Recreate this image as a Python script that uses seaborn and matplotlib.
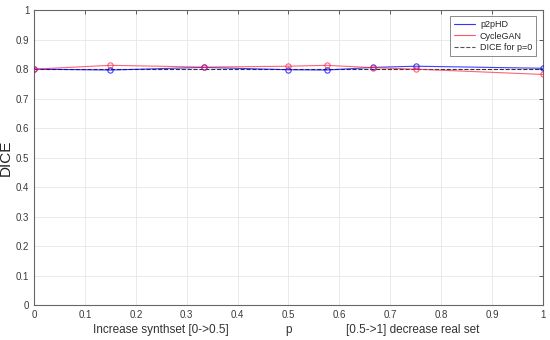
import matplotlib
matplotlib.use('Agg')
import matplotlib.pyplot as plt
from matplotlib.lines import Line2D
import seaborn as sns
import pandas as pd

# data
p = [0, 0.15, 0.333, 0.5, 0.575, 0.667, 0.75, 1.0]
p2phd = [0.800, 0.797, 0.806, 0.798, 0.797, 0.806, 0.810, 0.803]
cyclegan = [0.800, 0.813, 0.807, 0.810, 0.813, 0.805, 0.800, 0.782]
dice_p0 = 0.800

sns.set_style('whitegrid')
plt.rcParams['font.family'] = ['Liberation Sans', 'DejaVu Sans']

fig = plt.figure(figsize=(5.5, 3.4), dpi=100)
ax = fig.add_axes([0.062, 0.103, 0.925, 0.867])

df = pd.DataFrame({'p': p, 'p2pHD': p2phd, 'CycleGAN': cyclegan})

# reference line for p=0
ax.plot([0, 1], [dice_p0, dice_p0], color='#333333', linestyle='--', linewidth=0.8, zorder=2)

sns.lineplot(x='p', y='p2pHD', data=df, color='#0000ff', linewidth=0.8, marker='o',
             markersize=3.8, markerfacecolor='none', markeredgecolor='#0000ff',
             markeredgewidth=0.8, ax=ax, zorder=3, alpha=0.75)
sns.lineplot(x='p', y='CycleGAN', data=df, color='#ff2040', linewidth=0.8, marker='o',
             markersize=3.8, markerfacecolor='none', markeredgecolor='#ff2040',
             markeredgewidth=0.8, ax=ax, zorder=4, alpha=0.7)

ax.set_xlim(0, 1)
ax.set_ylim(0, 1)
ax.set_xticks([i / 10 for i in range(11)])
ax.set_yticks([i / 10 for i in range(11)])
ax.set_xticklabels(['0', '0.1', '0.2', '0.3', '0.4', '0.5', '0.6', '0.7', '0.8', '0.9', '1'])
ax.set_yticklabels(['0', '0.1', '0.2', '0.3', '0.4', '0.5', '0.6', '0.7', '0.8', '0.9', '1'])
ax.tick_params(axis='both', direction='in', length=3, width=0.6, color='#444444',
               labelsize=7, labelcolor='#3a3a3a', pad=3.5, top=True, right=True)
ax.grid(True, color='#e6e6e6', linewidth=0.6)
for s in ax.spines.values():
    s.set_visible(True)
    s.set_color('#666666')
    s.set_linewidth(0.8)

ax.set_xlabel('')
ax.set_ylabel('DICE', fontsize=11, color='#222222', labelpad=2)
ax.text(0.25, -0.085, 'Increase synthset [0->0.5]', transform=ax.transAxes,
        ha='center', va='center', fontsize=8.5, color='#333333')
ax.text(0.5, -0.085, 'p', transform=ax.transAxes,
        ha='center', va='center', fontsize=8.5, color='#333333')
ax.text(0.745, -0.085, '[0.5->1] decrease real set', transform=ax.transAxes,
        ha='center', va='center', fontsize=8.5, color='#333333')

handles = [Line2D([], [], color='#3333ff', linewidth=0.8),
           Line2D([], [], color='#ff5566', linewidth=0.8),
           Line2D([], [], color='#555555', linewidth=0.8, linestyle='--')]
leg = ax.legend(handles, ['p2pHD', 'CycleGAN', 'DICE for p=0'], loc='upper right',
                fontsize=6.5, frameon=True, fancybox=False, handlelength=2.3,
                handletextpad=0.6, borderpad=0.4, labelspacing=0.3,
                bbox_to_anchor=(0.995, 0.995))
leg.get_frame().set_edgecolor('#555555')
leg.get_frame().set_linewidth(0.6)

fig.savefig('out.png', dpi=100)
